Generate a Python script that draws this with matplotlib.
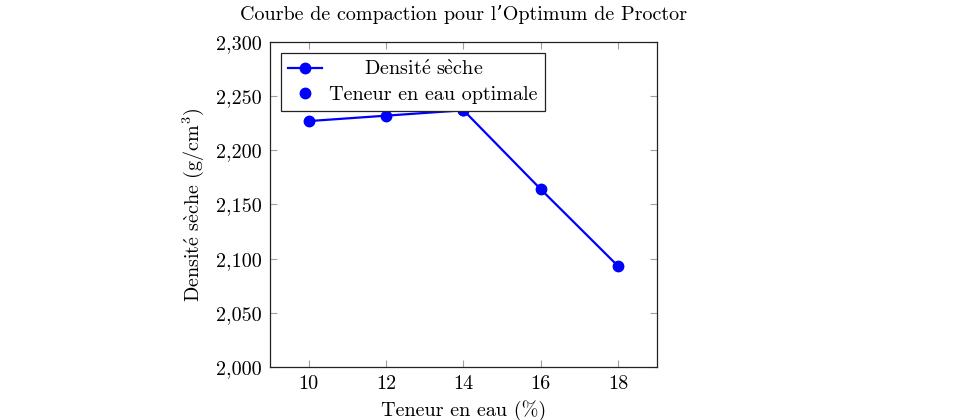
import numpy as np
import matplotlib
matplotlib.use("Agg")
import matplotlib.pyplot as plt
from matplotlib.ticker import FuncFormatter

# data
teneur = [10, 12, 14, 16, 18]
densite = [2.227, 2.232, 2.237, 2.164, 2.093]
opt_x = [14]
opt_y = [2.237]

plt.rcParams['font.family'] = ['cmr10', 'DejaVu Serif']
plt.rcParams['mathtext.fontset'] = 'cm'
plt.rcParams['axes.unicode_minus'] = False

fs = 14.5
fig = plt.figure(figsize=(9.79, 4.2), dpi=100)
ax = fig.add_axes([0.2758, 0.1262, 0.671 - 0.2758, 0.9 - 0.1262])

ax.plot(teneur, densite, '-o', color='#0000ff', lw=1.6, ms=7.5,
        label=r'$\mathrm{\quad\quad Densit\acute{e}\ s\grave{e}che}$')
ax.plot(opt_x, opt_y, 'o', color='#0000ff', ms=7.5, ls='none',
        label='Teneur en eau optimale')

ax.set_xlim(9, 19)
ax.set_ylim(2.0, 2.3)
ax.set_xticks([10, 12, 14, 16, 18])
ax.set_yticks(np.arange(2.0, 2.301, 0.05))
ax.yaxis.set_major_formatter(FuncFormatter(lambda v, p: ('%.3f' % v).replace('.', ',')))

ax.tick_params(direction='in', length=5, width=0.8, color='#a0a0a0',
               top=True, right=True, labelsize=fs, pad=6)
for s in ax.spines.values():
    s.set_linewidth(0.9)
    s.set_color('#222222')

ax.set_title('Courbe de compaction pour l\u2019Optimum de Proctor', fontsize=fs, pad=16)
ax.set_xlabel('Teneur en eau (%)', fontsize=fs, labelpad=5)
ax.set_ylabel(r'$\mathrm{Densit\acute{e}\ s\grave{e}che\ (g/cm^3)}$', fontsize=fs, labelpad=7)

leg = ax.legend(loc='upper left', fontsize=fs, fancybox=False, framealpha=1,
                edgecolor='#222222', borderaxespad=0.55, handlelength=1.7,
                handletextpad=0.35, borderpad=0.35, labelspacing=0.3)
leg.get_frame().set_linewidth(0.9)
leg.set_zorder(5)

fig.savefig('out.png', dpi=100)
